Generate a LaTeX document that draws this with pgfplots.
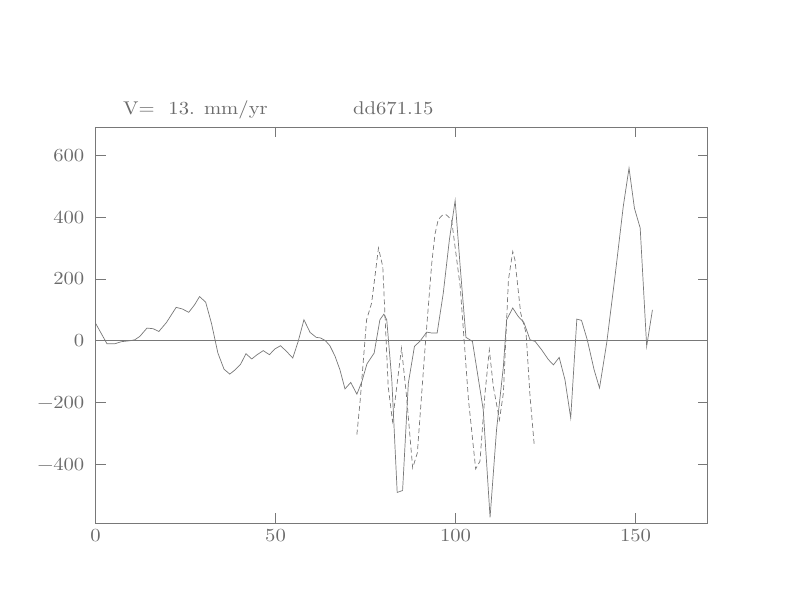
\documentclass[border=0pt]{standalone}
\usepackage{fontspec}
\setmainfont{lmroman10-regular}[Extension=.otf, FakeStretch=1.12]
\usepackage{pgfplots}
\pgfplotsset{compat=1.18}
\definecolor{lc}{gray}{0.47}
\definecolor{tc}{gray}{0.42}
\begin{document}
\begin{tikzpicture}[x=1bp,y=1bp]
\path[use as bounding box] (0,0) rectangle (792,612);
\node[anchor=base west, inner sep=0pt, text=tc, font=\fontsize{18.5}{20}\selectfont] at (123,497) {V=\ \ 13. mm/yr};
\node[anchor=base west, inner sep=0pt, text=tc, font=\fontsize{18.5}{20}\selectfont] at (353,497) {dd671.15};
\begin{axis}[
  at={(95.5bp,89bp)}, anchor=south west,
  scale only axis, width=612bp, height=396bp,
  xmin=0, xmax=170, ymin=-590, ymax=692,
  xtick={0,50,100,150}, ytick={-400,-200,0,200,400,600},
  xticklabels={0,50,100,150},
  yticklabels={−400,−200,0,200,400,600},
  minor tick num=0,
  tick align=inside, major tick length=10bp,
  axis line style={lc, line width=0.7bp},
  tick style={lc, line width=0.7bp},
  ticklabel style={text=tc, font=\fontsize{18.5}{20}\selectfont, inner sep=0pt},
  yticklabel style={xshift=-11bp},
  xticklabel style={yshift=-6bp},
]
\addplot[lc, line width=0.7bp, forget plot] coordinates {(0,0) (170,0)};
\addplot[lc, line width=0.7bp, mark=none] coordinates {
(0,57) (3.2,-10) (5.3,-10) (7.2,-3) (9.5,0) (10.9,3) (12.3,14) (14.3,41) (16,39) (17.6,30)
(19.7,59) (22.4,108) (24.1,103) (25.9,92) (27.5,116) (28.9,143) (30.6,125) (32.2,57) (34,-40)
(35.7,-92) (37.3,-108) (38.8,-94) (40.3,-76) (41.8,-42) (43.4,-59) (44.9,-45) (46.6,-32)
(48.3,-45) (49.9,-26) (51.4,-16) (53.1,-35) (54.8,-56) (56.3,-2) (57.9,68) (59.6,27) (61.3,11)
(62.5,9) (63.8,1) (65.1,-16) (66.5,-49) (67.9,-94) (69.3,-156) (70.9,-135) (72.6,-173) (74,-132)
(75.4,-75) (77.4,-40) (79,68) (80.1,86) (80.9,68) (82.3,-126) (83.8,-491) (85.3,-485) (86.9,-137)
(88.6,-18) (90.1,-2) (92,28) (93.4,25) (94.9,25) (96.6,154) (98.3,327) (99.9,454) (101.3,240)
(102.9,11) (104.7,-2) (106.1,-105) (107.7,-223) (109.6,-572) (111.4,-288) (113.3,-83) (114.2,68)
(115.9,106) (117.4,79) (119,59) (120.7,3) (122.1,-2) (123.9,-29) (125.8,-61) (127.2,-78)
(128.8,-54) (130.4,-126) (132,-250) (133.7,70) (135,66) (136.6,3) (138.5,-94) (140,-153)
(142,-7) (144.3,208) (146.6,435) (148.2,559) (149.7,429) (151.3,365) (153.1,-18) (154.7,100)
};
\addplot[lc, line width=0.7bp, mark=none, dash pattern=on 5bp off 3bp] coordinates {
(72.6,-304) (73.5,-196) (75.3,68) (76.7,122) (78.6,300) (79.8,240) (81.3,-148) (82.5,-261)
(83.8,-137) (85,-24) (86.4,-180) (88.1,-412) (89.4,-363) (91.5,-29) (93.4,251) (94.3,345) (95.2,392)
(96.3,406) (97.4,408) (98.9,392) (101.3,176) (103.6,-191) (105.6,-415) (106.8,-390) (108.2,-169)
(109.4,-29) (110.5,-148) (112.2,-256) (113.3,-169) (114.7,197) (115.9,289) (116.5,262)
(118.1,90) (119.6,25) (120.7,-180) (121.9,-342)
};
\end{axis}
\end{tikzpicture}
\end{document}
